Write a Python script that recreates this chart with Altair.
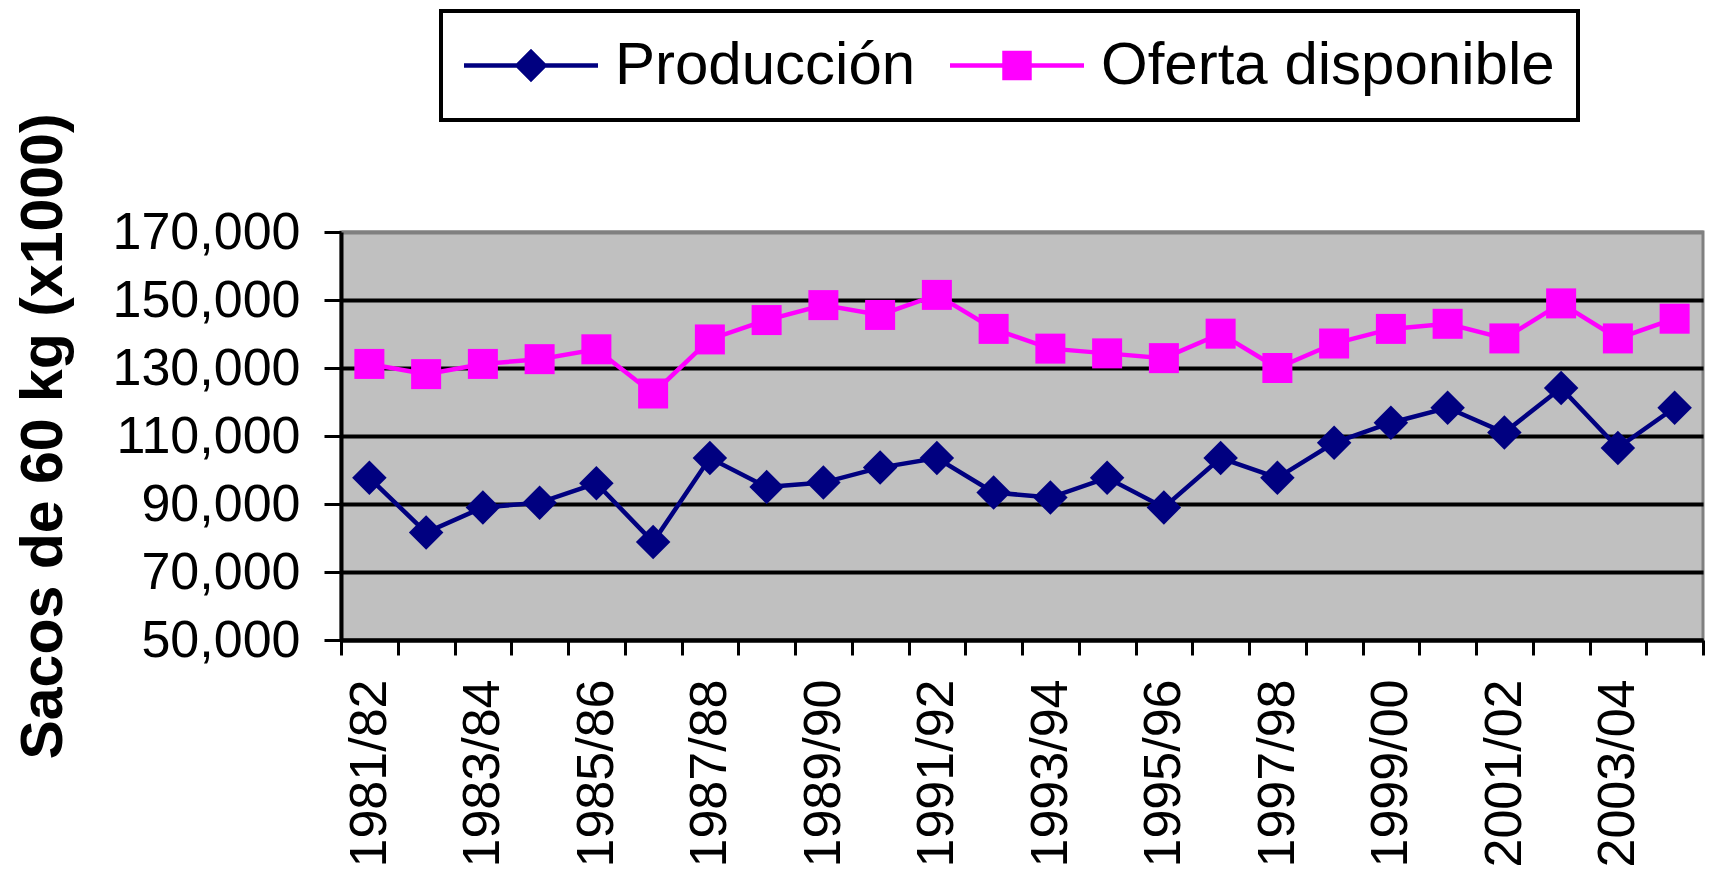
import altair as alt
import pandas as pd

categorias = ["1981/82", "1982/83", "1983/84", "1984/85", "1985/86", "1986/87",
              "1987/88", "1988/89", "1989/90", "1990/91", "1991/92", "1992/93",
              "1993/94", "1994/95", "1995/96", "1996/97", "1997/98", "1998/99",
              "1999/00", "2000/01", "2001/02", "2002/03", "2003/04", "2004/05"]
produccion = [97700, 81600, 89000, 90400, 96100, 78800, 103500, 95000, 96300, 100700,
              103500, 93400, 91900, 97700, 89000, 103500, 97700, 108000, 113900, 118300,
              111000, 124100, 106500, 118300]
oferta = [131200, 128200, 131200, 132600, 135500, 122500, 138400, 144100, 148500, 145600,
          151500, 141500, 135700, 134300, 132900, 140100, 130000, 137200, 141500, 143000,
          138700, 149000, 138700, 144500]
series = ["Producción", "Oferta disponible"]
colores = ["#000080", "#FF00FF"]
y_ticks = [50000, 70000, 90000, 110000, 130000, 150000, 170000]

rows = []
for c, p, o in zip(categorias, produccion, oferta):
    rows.append({"campana": c, "valor": p, "serie": series[0]})
    rows.append({"campana": c, "valor": o, "serie": series[1]})
df = pd.DataFrame(rows)

FONT = "Liberation Sans"

x_enc = alt.X(
    "campana:N", sort=categorias,
    scale=alt.Scale(type="band", paddingInner=0, paddingOuter=0),
    axis=alt.Axis(
        title=None, labelAngle=-90, labelFont=FONT, labelFontSize=52, labelColor="black",
        labelExpr="parseInt(substring(datum.value, 0, 4)) % 2 == 1 ? datum.value : ''",
        labelOverlap=False, labelLimit=1000, labelPadding=24, tickBand="extent",
        tickSize=15, tickWidth=3,
        tickColor="black", domainColor="black", domainWidth=4, grid=False,
    ),
)
y_enc = alt.Y(
    "valor:Q",
    scale=alt.Scale(domain=[50000, 170000], nice=False, zero=False),
    axis=alt.Axis(
        values=y_ticks, format=",.0f", title="Sacos de 60 kg (x1000)",
        titleFont=FONT, titleFontSize=59, titleFontWeight="bold", titleColor="black",
        titlePadding=68,
        labelFont=FONT, labelFontSize=52, labelColor="black", labelPadding=24,
        labelLimit=1000,
        tickSize=17, tickWidth=3, tickColor="black",
        domainColor="black", domainWidth=4,
        grid=True, gridWidth=4,
        gridColor={"condition": {"test": "datum.value === 170000", "value": "#808080"},
                   "value": "black"},
    ),
)

base = alt.Chart(df)

prod = base.transform_filter(alt.datum.serie == series[0]).mark_line(
    color=colores[0], strokeWidth=4.5,
    point=alt.OverlayMarkDef(shape="diamond", size=1190, filled=True, color=colores[0], opacity=1),
).encode(x=x_enc, y=y_enc)

ofer = base.transform_filter(alt.datum.serie == series[1]).mark_line(
    color=colores[1], strokeWidth=4.5,
    point=alt.OverlayMarkDef(shape="square", size=900, filled=True, color=colores[1], opacity=1),
).encode(x=x_enc, y=y_enc)

path_diamante = ("M-1,-0.035L-0.215,-0.035L0,-0.25L0.215,-0.035L1,-0.035L1,0.035"
                 "L0.215,0.035L0,0.25L-0.215,0.035L-1,0.035Z")
path_cuadro = ("M-1,-0.035L-0.22,-0.035L-0.22,-0.22L0.22,-0.22L0.22,-0.035L1,-0.035"
               "L1,0.035L0.22,0.035L0.22,0.22L-0.22,0.22L-0.22,0.035L-1,0.035Z")

def mk_legend():
    return alt.Legend(
        title=None, orient="none", legendX=100, legendY=-221, direction="horizontal",
        symbolSize=17956, symbolOpacity=1, symbolStrokeWidth=0,
        labelFont=FONT, labelFontSize=60, labelColor="black", labelOffset=17,
        labelLimit=1000, columnPadding=34, padding=23, clipHeight=63,
        strokeColor="black", fillColor="white",
    )

leyenda = base.mark_point(opacity=0, filled=True).encode(
    x=x_enc, y=y_enc,
    color=alt.Color("serie:N", scale=alt.Scale(domain=series, range=colores), legend=mk_legend()),
    shape=alt.Shape(
        "serie:N", scale=alt.Scale(domain=series, range=[path_diamante, path_cuadro]),
        legend=mk_legend(),
    ),
)

chart = alt.layer(prod, ofer, leyenda).properties(
    width=1362, height=408,
    padding={"left": 333, "top": 224, "right": 6, "bottom": 231},
    autosize=alt.AutoSizeParams(type="none"),
    background="white",
).configure_view(
    fill="#C0C0C0", stroke="#808080", strokeWidth=3,
).configure_legend(
    strokeWidth=4,
)

chart.save("out.html", embed_options={"renderer": "svg", "actions": False})
